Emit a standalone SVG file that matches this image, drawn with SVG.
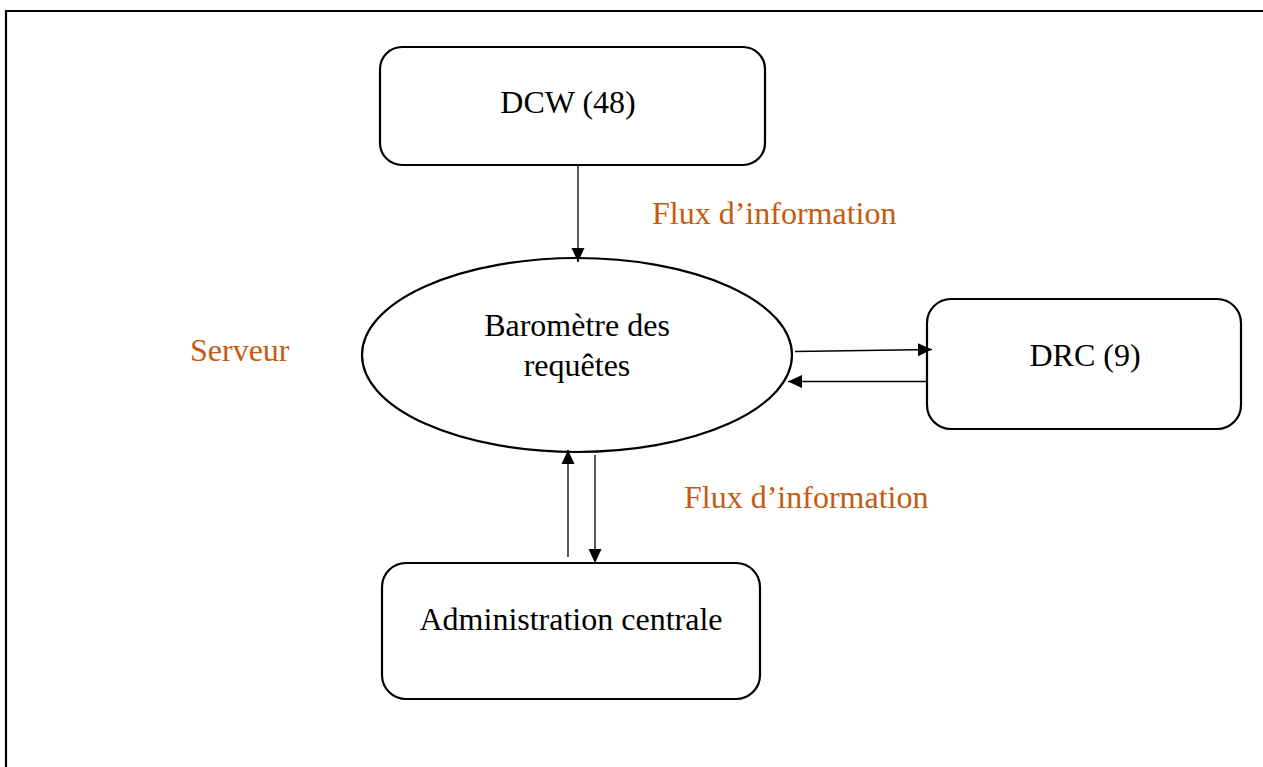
<svg xmlns="http://www.w3.org/2000/svg" width="1263" height="767" viewBox="0 0 1263 767">
  <style>
    .box { fill: #ffffff; stroke: #000000; stroke-width: 2.2; }
    .lbl { font-family: "Liberation Serif", "Times New Roman", serif; font-size: 32px; fill: #000000; }
    .note { font-family: "Liberation Serif", "Times New Roman", serif; font-size: 32px; fill: #C55A11; }
    .flow { stroke: #000000; stroke-width: 1.3; fill: none; marker-end: url(#arrow); }
  </style>
  <defs>
    <marker id="arrow" viewBox="0 0 14 14" refX="14" refY="7" markerWidth="14" markerHeight="14" markerUnits="userSpaceOnUse" orient="auto">
      <path d="M0,0.5 L14,7 L0,13.5 Z" fill="#000000"/>
    </marker>
  </defs>

  <rect width="1263" height="767" fill="#ffffff"/>

  <!-- page frame (open at right and bottom) -->
  <path d="M6,767 L6,11 L1263,11" fill="none" stroke="#000000" stroke-width="2.2"/>

  <g id="dcw">
    <rect class="box" x="380" y="47" width="385" height="118" rx="22"/>
    <text class="lbl" x="568" y="113" text-anchor="middle">DCW (48)</text>
  </g>

  <g id="barometre">
    <ellipse class="box" cx="577" cy="355" rx="215" ry="97"/>
    <text class="lbl" x="577" y="336" text-anchor="middle">Baromètre des</text>
    <text class="lbl" x="577" y="376" text-anchor="middle">requêtes</text>
  </g>

  <g id="drc">
    <rect class="box" x="927" y="299" width="314" height="130" rx="24"/>
    <text class="lbl" x="1085" y="366" text-anchor="middle">DRC (9)</text>
  </g>

  <g id="administration">
    <rect class="box" x="382" y="563" width="378" height="136" rx="24"/>
    <text class="lbl" x="571" y="630" text-anchor="middle">Administration centrale</text>
  </g>

  <g id="labels">
    <text class="note" x="190" y="361">Serveur</text>
    <text class="note" x="652" y="224">Flux d’information</text>
    <text class="note" x="684" y="508">Flux d’information</text>
  </g>

  <g id="connectors">
    <line class="flow" x1="578" y1="165" x2="578" y2="262"/>
    <line class="flow" x1="795" y1="351.5" x2="932" y2="349.5"/>
    <line class="flow" x1="927" y1="381.5" x2="788" y2="381.5"/>
    <line class="flow" x1="568" y1="557" x2="568" y2="450"/>
    <line class="flow" x1="595" y1="455" x2="595" y2="563"/>
  </g>
</svg>
